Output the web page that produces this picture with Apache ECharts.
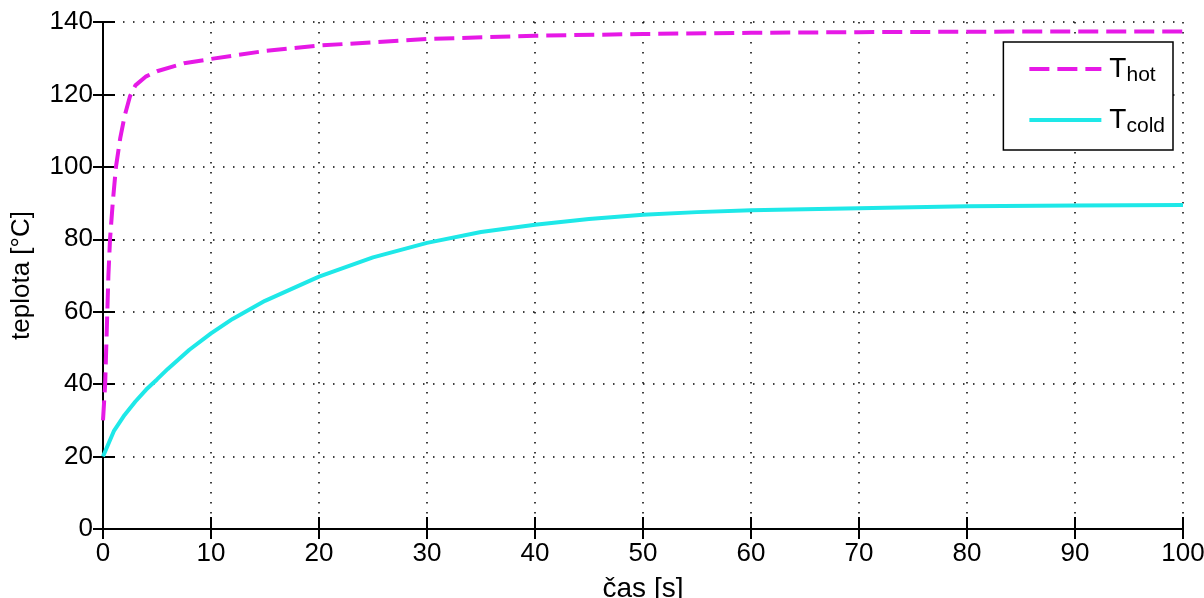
<!DOCTYPE html>
<html>
<head>
<meta charset="utf-8">
<script src="https://cdn.jsdelivr.net/npm/echarts@6/dist/echarts.min.js"></script>
<style>
html,body{margin:0;padding:0;background:#fff;}
#chart{width:1204px;height:598px;}
</style>
</head>
<body>
<div id="chart"></div>
<script>
// ---- data ----
var xTicks = [0,10,20,30,40,50,60,70,80,90,100];
var yTicks = [0,20,40,60,80,100,120,140];
var tHot  = [0, 0.2, 0.3, 0.4, 0.5, 0.65, 0.9, 1.2, 1.6, 2, 2.5, 3, 4, 5, 7.5, 10, 15, 20, 25, 30, 40, 50, 60, 70, 80, 90, 100];
var vHot  = [30, 40, 50, 60, 70, 80, 90, 100, 108, 114, 119.5, 122.5, 125, 126.4, 128.6, 129.8, 132, 133.5, 134.4, 135.3, 136.2, 136.7, 137, 137.2, 137.3, 137.4, 137.4];
var tCold = [0, 1, 2, 3, 4, 5, 6, 8, 10, 12, 15, 20, 25, 30, 35, 40, 45, 50, 55, 60, 70, 80, 90, 100];
var vCold = [20, 27, 31.5, 35.2, 38.5, 41.3, 44.2, 49.5, 54, 58, 63, 69.7, 75, 79, 82, 84, 85.6, 86.8, 87.5, 88, 88.6, 89.1, 89.3, 89.5];
var names = ['T_hot', 'T_cold'];

function pairs(xs, ys){ return xs.map(function(x,i){ return [x, ys[i]]; }); }

var FONT = 'Liberation Sans';
var dotted = {type:[1.5, 8.5], width:1.5, color:'#000'};
var axisLine = {show:true, lineStyle:{color:'#000', width:2}};

var chart = echarts.init(document.getElementById('chart'), null, {renderer:'canvas'});
chart.setOption({
  animation:false,
  backgroundColor:'#fff',
  grid:{left:103, right:21, top:22, bottom:69, containLabel:false, outerBoundsMode:'none'},
  legend:{
    orient:'vertical', right:31, top:42,
    backgroundColor:'#fff', borderColor:'#000', borderWidth:1.5, borderRadius:0,
    padding:[13, 8, 13, 24], itemGap:20, itemWidth:72, itemHeight:12,
    itemStyle:{opacity:0},
    lineStyle:{width:4},
    data:names,
    formatter:function(n){ var p=n.split('_'); return '{T|'+p[0]+'}{sub|'+p[1]+'}'; },
    textStyle:{
      fontFamily:FONT, color:'#000',
      rich:{
        T:{fontFamily:FONT, fontSize:28, color:'#000', padding:[0,0,0,3]},
        sub:{fontFamily:FONT, fontSize:21, color:'#000', padding:[13,0,0,0]}
      }
    }
  },
  xAxis:[{
    type:'value', min:0, max:100, interval:10, position:'bottom',
    name:'čas [s]', nameLocation:'middle', nameGap:46,
    nameTextStyle:{fontFamily:FONT, fontSize:28, color:'#000'},
    axisLine:axisLine,
    axisTick:{show:true, inside:true, length:12, lineStyle:{color:'#000', width:2}},
    axisLabel:{fontFamily:FONT, fontSize:26, color:'#000', margin:12,
      formatter:function(v){ return xTicks.indexOf(v)>=0 ? String(v) : ''; }},
    splitLine:{show:true, lineStyle:dotted}
  },{
    type:'value', min:0, max:100, interval:10, position:'top',
    axisLine:axisLine,
    axisTick:{show:true, inside:true, length:10, lineStyle:{color:'#000', width:2}},
    axisLabel:{show:false}, splitLine:{show:false}
  }],
  yAxis:[{
    type:'value', min:0, max:140, interval:20, position:'left',
    name:'teplota [°C]', nameLocation:'middle', nameGap:68, nameRotate:90,
    nameTextStyle:{fontFamily:FONT, fontSize:26, color:'#000'},
    axisLine:axisLine,
    axisTick:{show:true, inside:true, length:12, lineStyle:{color:'#000', width:2}},
    axisLabel:{fontFamily:FONT, fontSize:26, color:'#000', margin:10,
      formatter:function(v){ return yTicks.indexOf(v)>=0 ? String(v) : ''; }},
    splitLine:{show:true, lineStyle:dotted}
  },{
    type:'value', min:0, max:140, interval:20, position:'right',
    axisLine:axisLine,
    axisTick:{show:true, inside:true, length:10, lineStyle:{color:'#000', width:2}},
    axisLabel:{show:false}, splitLine:{show:false}
  }],
  series:[{
    name:names[0], type:'line', xAxisIndex:0, yAxisIndex:0,
    data:pairs(tHot, vHot), showSymbol:false, symbol:'none',
    smooth:false,
    color:'#e619e6',
    lineStyle:{color:'#e619e6', width:4, type:[20,8]}
  },{
    name:names[1], type:'line', xAxisIndex:0, yAxisIndex:0,
    data:pairs(tCold, vCold), showSymbol:false, symbol:'none',
    smooth:false,
    color:'#1ee8e8',
    lineStyle:{color:'#1ee8e8', width:4, type:'solid'}
  }]
});
</script>
</body>
</html>
